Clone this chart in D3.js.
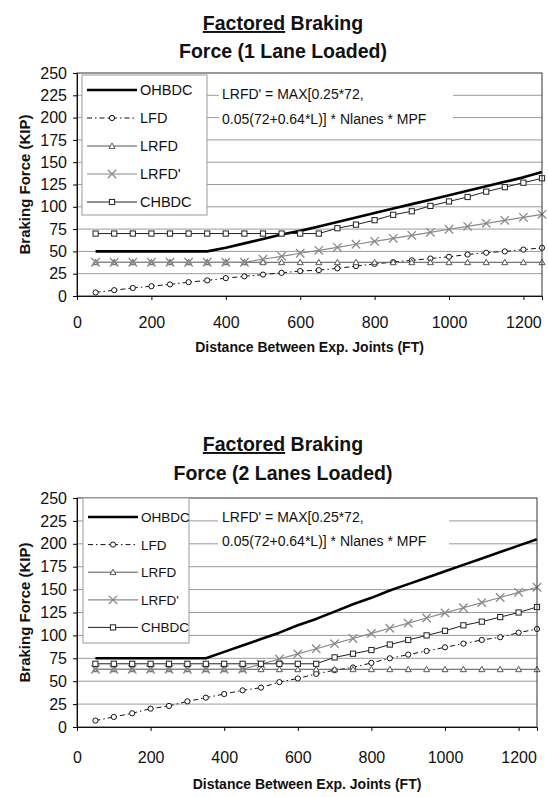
<!DOCTYPE html>
<html><head><meta charset="utf-8">
<script src="https://cdn.jsdelivr.net/npm/d3@7"></script>
<style>body{margin:0;background:#fff} svg text{font-family:"Liberation Sans",Arial,sans-serif}</style>
</head><body><svg id="c" width="548" height="797"></svg>
<script>
// ---------- data ----------
const distances=[50,100,150,200,250,300,350,400,450,500,550,600,650,700,750,800,850,900,950,1000,1050,1100,1150,1200,1250];
const seriesNames=["OHBDC","LFD","LRFD","LRFD'","CHBDC"];
// 1 lane loaded
const ohbdc1=[50,50,50,50,50,50,50,54,59,64,69,73,78,83,88,93,98,103,108,113,118,123,128,133,139];
const lfd1=[4,6.5,9,11,13,15.5,17.5,20,22,24,26,28,29,31,33.5,36,38,40,42,44,46.5,48.5,50,52,54];
const lrfd1=[37.8,37.8,37.8,37.8,37.8,37.8,37.8,37.8,37.8,37.8,37.8,37.8,37.8,37.8,37.8,37.8,37.8,37.8,37.8,37.8,37.8,37.8,37.8,37.8,37.8];
const lrfdp1=[37.8,37.8,37.8,37.8,37.8,37.8,37.8,37.8,37.8,41.2,44.5,47.9,51.2,54.6,58.0,61.3,64.7,68.0,71.4,74.8,78.1,81.5,84.8,88.2,91.6];
const chbdc1=[70,70,70,70,70,70,70,70,70,70,70,70,70,76,80,85,91,95,101,106,111,117,122,127,132];
// 2 lanes loaded
const ohbdc2=[75,75,75,75,75,75,75,82,89,96,103,111,118,126,134,141,149,156,163,170,177,184,191,198,205];
const lfd2=[7,11,15,20,23,28,32,36,40,43,49,53,58,62,65,70,75,79,83,87,91,95,98,103,107];
const lrfd2=[63,63,63,63,63,63,63,63,63,63,63,63,63,63,63,63,63,63,63,63,63,63,63,63,63];
const lrfdp2=[63,63,63,63,63,63,63,63,63,68.6,74.2,79.8,85.4,91.0,96.6,102.2,107.8,113.4,119.0,124.6,130.2,135.8,141.4,147.0,152.6];
const chbdc2=[69,69,69,69,69,69,69,69,69,69,69,69,69,76,80,84,90,95,100,105,111,115,120,125,131];
const yTicks=[0,25,50,75,100,125,150,175,200,225,250];
const xTicks=[0,200,400,600,800,1000,1200];
const titleUnderlined="Factored";
const titleRest=" Braking";
const subTitles=["Force (1 Lane Loaded)","Force (2 Lanes Loaded)"];
const xTitle="Distance Between Exp. Joints (FT)";
const yTitle="Braking Force (KIP)";
const noteLines=["LRFD' = MAX[0.25*72,","0.05(72+0.64*L)] * Nlanes * MPF"];

// ---------- styles ----------
const styles=[
  {stroke:"#000",w:2.6,dash:null,marker:null},
  {stroke:"#111",w:1,dash:"5,3,1.5,3",marker:"circle"},
  {stroke:"#555",w:1,dash:null,marker:"triangle"},
  {stroke:"#8a8a8a",w:1.2,dash:null,marker:"x"},
  {stroke:"#222",w:1,dash:null,marker:"square"}
];
const charts=[
  {series:[ohbdc1,lfd1,lrfd1,lrfdp1,chbdc1],top:73,bottom:296,left:77,right:542,t1:30,t2:58,
   legend:{x:82,y:75,w:125,h:140,y0:90,step:28,fs:14.5},noteX:222,noteY:[99,124],noteBox:[219,84,234,44],
   xPad:17,xTitleY:352},
  {series:[ohbdc2,lfd2,lrfd2,lrfdp2,chbdc2],top:498,bottom:727,left:77,right:537,t1:451,t2:480,
   legend:{x:83,y:498,w:106,h:145,y0:517,step:27.6,fs:13.5},noteX:222,noteY:[521.5,545.5],noteBox:[218,505,231,46],
   xPad:21,xTitleY:789}
];

const svg=d3.select("#c");

function drawMarker(g,type,x,y,st){
  if(type==="circle"){
    g.append("circle").attr("cx",x).attr("cy",y).attr("r",2.6).attr("fill","#fff").attr("stroke",st.stroke).attr("stroke-width",1);
  }else if(type==="triangle"){
    const s=3;
    g.append("path").attr("d",`M${x},${y-s}L${x+s},${y+s*0.8}L${x-s},${y+s*0.8}Z`).attr("fill","#fff").attr("stroke",st.stroke).attr("stroke-width",1);
  }else if(type==="x"){
    const s=4.2;
    g.append("path").attr("d",`M${x-s},${y-s}L${x+s},${y+s}M${x-s},${y+s}L${x+s},${y-s}`).attr("stroke",st.stroke).attr("stroke-width",1.3).attr("fill","none");
  }else if(type==="square"){
    const s=2.6;
    g.append("rect").attr("x",x-s).attr("y",y-s).attr("width",2*s).attr("height",2*s).attr("fill","#fff").attr("stroke",st.stroke).attr("stroke-width",1);
  }
}

charts.forEach((c,ci)=>{
  const g=svg.append("g");
  const x=d3.scaleLinear().domain([0,1250]).range([c.left,c.right]);
  const y=d3.scaleLinear().domain([0,250]).range([c.bottom,c.top]);
  // title
  const cx=283;
  const t=g.append("text").attr("x",cx).attr("y",c.t1).attr("text-anchor","middle")
    .attr("font-size",19.5).attr("font-weight","bold").attr("fill","#111");
  t.append("tspan").attr("text-decoration","underline").text(titleUnderlined);
  t.append("tspan").text(titleRest);
  g.append("text").attr("x",cx).attr("y",c.t2).attr("text-anchor","middle")
    .attr("font-size",19.5).attr("font-weight","bold").attr("fill","#111").text(subTitles[ci]);
  // plot background + grid
  g.append("rect").attr("x",c.left).attr("y",c.top).attr("width",c.right-c.left).attr("height",c.bottom-c.top).attr("fill","#fff");
  g.selectAll(".grid").data(yTicks.filter(v=>v>0&&v<250)).enter().append("line")
    .attr("x1",c.left).attr("x2",c.right).attr("y1",d=>y(d)).attr("y2",d=>y(d))
    .attr("stroke","#9a9a9a").attr("stroke-width",1);
  // note box
  g.append("rect").attr("x",c.noteBox[0]).attr("y",c.noteBox[1]).attr("width",c.noteBox[2]).attr("height",c.noteBox[3]).attr("fill","#fff");
  noteLines.forEach((l,i)=>g.append("text").attr("x",c.noteX).attr("y",c.noteY[i]).attr("font-size",14).attr("fill","#111").text(l));
  // series
  const line=d3.line().x((d,i)=>x(distances[i])).y(d=>y(d));
  c.series.forEach((s,si)=>{
    const st=styles[si];
    g.append("path").datum(s).attr("d",line).attr("fill","none").attr("stroke",st.stroke)
      .attr("stroke-width",st.w).attr("stroke-dasharray",st.dash).attr("stroke-linejoin","round");
    if(st.marker){
      const mg=g.append("g");
      s.forEach((v,i)=>drawMarker(mg,st.marker,x(distances[i]),y(v),st));
    }
  });
  // border
  g.append("rect").attr("x",c.left).attr("y",c.top).attr("width",c.right-c.left).attr("height",c.bottom-c.top)
    .attr("fill","none").attr("stroke","#333").attr("stroke-width",1);
  // axes
  const ya=g.append("g").attr("transform",`translate(${c.left},0)`)
    .call(d3.axisLeft(y).tickValues(yTicks).tickSize(4).tickPadding(6).tickFormat(d3.format("d")));
  ya.select(".domain").attr("stroke","#111");
  ya.selectAll("text").attr("font-size",16).attr("fill","#111").style("font-family",'"Liberation Sans",Arial,sans-serif');
  const xa=g.append("g").attr("transform",`translate(0,${c.bottom})`)
    .call(d3.axisBottom(x).tickValues(xTicks).tickSize(4).tickPadding(c.xPad).tickFormat(d3.format("d")));
  xa.select(".domain").attr("stroke","#111");
  xa.selectAll("text").attr("font-size",16).attr("fill","#111").style("font-family",'"Liberation Sans",Arial,sans-serif');
  // axis titles
  g.append("text").attr("transform",`translate(30,${(c.top+c.bottom)/2}) rotate(-90)`).attr("text-anchor","middle")
    .attr("font-size",15).attr("font-weight","bold").attr("fill","#111").text(yTitle);
  g.append("text").attr("x",(c.left+c.right)/2).attr("y",c.xTitleY).attr("text-anchor","middle")
    .attr("font-size",14).attr("font-weight","bold").attr("fill","#111").text(xTitle);
  // legend
  const L=c.legend;
  const lg=g.append("g");
  lg.append("rect").attr("x",L.x).attr("y",L.y).attr("width",L.w).attr("height",L.h).attr("fill","#fff").attr("stroke","#999").attr("stroke-width",1);
  seriesNames.forEach((n,i)=>{
    const st=styles[i], yy=L.y0+i*L.step;
    lg.append("line").attr("x1",L.x+5).attr("x2",L.x+55).attr("y1",yy).attr("y2",yy)
      .attr("stroke",st.stroke).attr("stroke-width",st.w).attr("stroke-dasharray",st.dash);
    if(st.marker) drawMarker(lg,st.marker,L.x+30,yy,st);
    lg.append("text").attr("x",L.x+58).attr("y",yy+5).attr("font-size",L.fs).attr("fill","#111").text(n);
  });
});
</script></body></html>
